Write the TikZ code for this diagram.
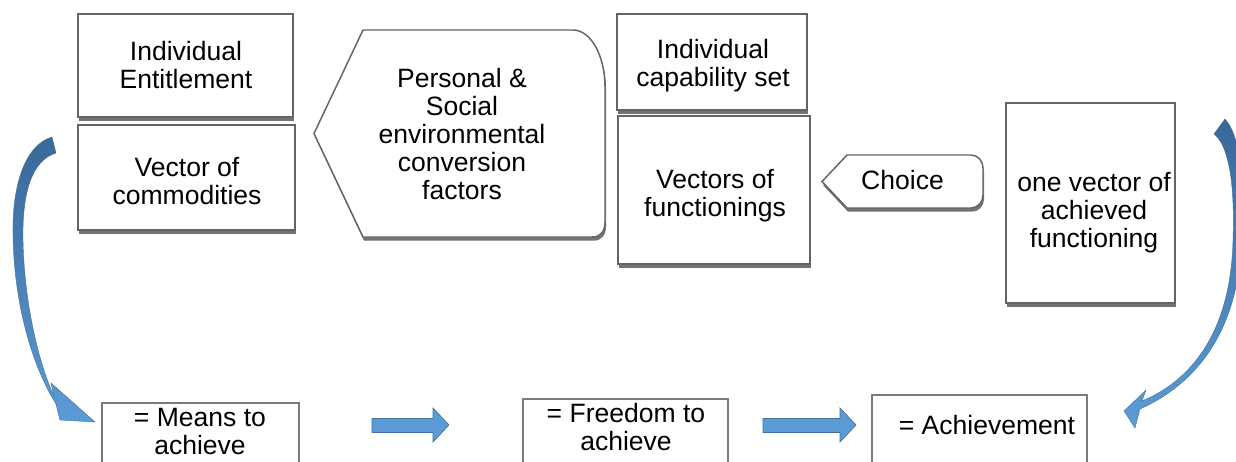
\documentclass[tikz,border=0pt]{standalone}
\usepackage{fontspec}
\setmainfont{Liberation Sans}
\usetikzlibrary{fit,shadows}
\definecolor{boxline}{RGB}{100,100,100}
\definecolor{arrowfill}{RGB}{91,155,213}
\definecolor{arrowline}{RGB}{65,113,156}
\definecolor{arrowdark}{RGB}{58,104,152}
\begin{document}
\begin{tikzpicture}[x=0.75pt,y=-0.75pt,
  box/.style={draw=boxline, line width=1.1pt, fill=white, inner sep=0pt,
    drop shadow={shadow xshift=0.8pt, shadow yshift=-2.8pt, opacity=0.55, fill=black}},
  plainbox/.style={draw=boxline!85, line width=0.9pt, fill=white, inner sep=0pt},
  txt/.style={align=center, inner sep=0pt, font=\fontsize{19.9}{21}\selectfont},
  blockarrow/.style={fill=arrowfill, draw=arrowline, line width=0.5pt},
  curvedarrow/.style={top color=arrowdark, bottom color=arrowfill, draw=arrowline, line width=0.3pt}
]
\useasboundingbox (0,0) rectangle (1236,461);
\clip (0,0) rectangle (1236,461);

% upper row of boxes
\node[box, fit={(78,14) (293,117)}] (ent) {};
\node[box, fit={(78,125) (295,230)}] (com) {};
\node[box, fit={(617,14) (807,110)}] (cap) {};
\node[box, fit={(618,116) (810,264)}] (fun) {};
\node[box, fit={(1006,103) (1175,303)}] (ach) {};

% conversion factors: left-pointing display shape
\path[box] (314,133.5) -- (363,30) -- (573,30)
  .. controls (591,30) and (605,56) .. (605,87) -- (605,222)
  .. controls (605,231) and (601,237) .. (592,237) -- (363,237) -- cycle;

% choice tag
\path[box] (822,181.5) -- (847,155) -- (971,155)
  .. controls (978,155) and (983,161) .. (983,168) -- (983,195)
  .. controls (983,202) and (978,208) .. (971,208) -- (847,208) -- cycle;

% lower row of boxes
\node[plainbox, fit={(102,403) (299,475)}] (means) {};
\node[plainbox, fit={(523,399) (728,475)}] (free) {};
\node[plainbox, fit={(872,395) (1087,475)}] (achv) {};

% texts
\node[txt] (entT) at (186,65.5) {Individual\\Entitlement};
\node[txt] (comT) at (187,181) {Vector of\\commodities};
\node[txt] (pscT) at (462,134) {Personal \&\\Social\\environmental\\conversion\\factors};
\node[txt] (capT) at (713,66) {Individual\\capability set};
\node[txt] (funT) at (715,196) {Vectors of\\functionings};
\node[txt] (choT) at (902.5,180) {Choice};
\node[txt] (achT) at (1094,212.5) {one vector of\\achieved\\functioning};
\node[txt] (meansT) at (200,431) {= Means to\\achieve};
\node[txt] (freeT) at (626,427.5) {= Freedom to\\achieve};
\node[txt] (achvT) at (987,425) {= Achievement};

% block arrows between the lower boxes
\path[blockarrow] (372,418.5) -- (433,418.5) -- (433,408) -- (449,425)
  -- (433,442) -- (433,432.5) -- (372,432.5) -- cycle;
\path[blockarrow] (763,418.5) -- (840,418.5) -- (840,408) -- (856,425)
  -- (840,442) -- (840,432.5) -- (763,432.5) -- cycle;

% curved arrow on the left
\path[curvedarrow] (52,137) .. controls (25,145) and (12,185) .. (13,235)
  .. controls (14,300) and (30,362) .. (56,404) -- (60,420) -- (95,422)
  -- (51,383) -- (54,396) .. controls (38,362) and (24,300) .. (23,240)
  .. controls (22,190) and (33,160) .. (56,153) -- cycle;

% curved arrow on the right
\path[curvedarrow] (1225,119) .. controls (1240,135) and (1245,180) .. (1242,240)
  .. controls (1238,330) and (1198,383) .. (1140,409) -- (1135,428) -- (1124,411)
  -- (1146,390) -- (1142,401) .. controls (1197,378) and (1231,325) .. (1233,240)
  .. controls (1235,180) and (1228,145) .. (1214,134) -- cycle;
\end{tikzpicture}
\end{document}
